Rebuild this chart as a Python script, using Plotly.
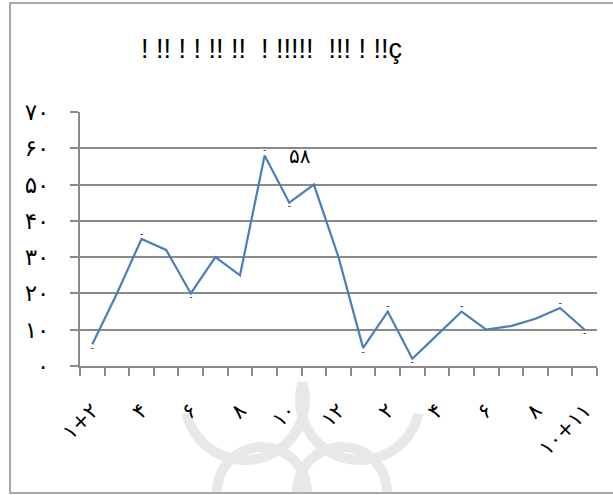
import numpy as np
import plotly.graph_objects as go

# ---- data ----
categories = ["۱+۲", "۳", "۴", "۵", "۶", "۷", "۸", "۹", "۱۰", "۱۱", "۱۲",
              "۱", "۲", "۳", "۴", "۵", "۶", "۷", "۸", "۹", "۱۰+۱۱"]
values = [6, 20, 35, 32, 20, 30, 25, 58, 45, 50, 30, 5, 15, 2, 8.5, 15, 10, 11, 13, 16, 10]
y_tick_vals = [0, 10, 20, 30, 40, 50, 60, 70]
y_tick_text = ["۰", "۱۰", "۲۰", "۳۰", "۴۰", "۵۰", "۶۰", "۷۰"]
title_text = "! !! ! ! !! !!  ! !!!!!  !!! ! !!ç"
peak_label = "۵۸"
# small dash artefacts next to some points (index -> position)
dash_marks = {0: "bottom center", 2: "top center", 4: "bottom center", 7: "top center",
              8: "bottom center", 11: "bottom center", 12: "top center", 13: "bottom center",
              15: "top center", 19: "top center", 20: "bottom center"}

W, H = 613, 495
L, R, T, B = 80, 16, 112, 129
pw, ph = W - L - R, H - T - B

def px(x):
    return (x - L) / pw

def py(y):
    return (H - B - y) / ph

xs = list(range(1, len(categories) + 1))
GRID = "#8a8a8a"

fig = go.Figure()

fig.add_trace(go.Scatter(
    x=xs, y=values, mode="lines",
    line=dict(color="#4a7ebb", width=2.2),
    hoverinfo="skip", showlegend=False,
))

dx = [xs[i] for i in dash_marks]
dy = [values[i] for i in dash_marks]
fig.add_trace(go.Scatter(
    x=dx, y=dy, mode="text", text=["-"] * len(dx),
    textposition=list(dash_marks.values()),
    textfont=dict(size=9, color="black", family="DejaVu Sans"),
    hoverinfo="skip", showlegend=False,
))

fig.add_annotation(
    x=xs[values.index(max(values))], y=max(values), text=peak_label,
    showarrow=False, xanchor="left", yanchor="middle", xshift=22, yshift=0,
    font=dict(size=20, color="black", family="DejaVu Sans"),
)

# outer chart frame
fig.add_shape(type="rect", xref="paper", yref="paper",
              x0=px(10), x1=px(640), y0=py(493), y1=py(3),
              line=dict(color="#8c8c8c", width=1.5), layer="below")

# faint watermark arcs
wm = dict(color="#e8e8e8", width=10)
def arc_path(cx, cy, r, a0, a1, n=60):
    t = np.linspace(np.radians(a0), np.radians(a1), n)
    pts = [(px(cx + r * np.cos(a)), py(cy + r * np.sin(a))) for a in t]
    return "M " + " L ".join(f"{a:.5f},{b:.5f}" for a, b in pts)

fig.add_shape(type="path", xref="paper", yref="paper", layer="below",
              path=arc_path(245, 400, 60, 167, -17), line=wm)
fig.add_shape(type="path", xref="paper", yref="paper", layer="below",
              path=arc_path(360, 400, 60, 197, 13), line=wm)
fig.add_shape(type="path", xref="paper", yref="paper", layer="below",
              path=arc_path(262, 492, 45, 180, 360), line=wm)
fig.add_shape(type="path", xref="paper", yref="paper", layer="below",
              path=arc_path(342, 492, 45, 180, 360), line=wm)

fig.update_layout(
    width=W, height=H,
    margin=dict(l=L, r=R, t=T, b=B, autoexpand=False),
    paper_bgcolor="white", plot_bgcolor="white",
    title=dict(text=title_text, x=271.5 / W, xanchor="center", xref="container",
               y=1 - 49 / H, yanchor="middle", yref="container",
               font=dict(size=27, color="black",
                         family="Liberation Sans Narrow, Arial Narrow, Liberation Sans")),
)

fig.update_xaxes(
    range=[0.5, len(categories) + 0.5],
    tickmode="array", tickvals=xs[::2], ticktext=categories[::2],
    ticks="", tickangle=-45, ticklabelstandoff=22,
    tickfont=dict(size=21, color="black", family="DejaVu Sans"),
    showgrid=False, zeroline=False,
    showline=True, linecolor=GRID, linewidth=2,
    minor=dict(tickmode="linear", tick0=0.5, dtick=1, ticks="outside",
               ticklen=8, tickwidth=1.5, tickcolor=GRID, showgrid=False),
    fixedrange=True,
)
fig.update_yaxes(
    range=[0, 70], tickmode="array", tickvals=y_tick_vals, ticktext=y_tick_text,
    ticks="outside", ticklen=8, tickwidth=2, tickcolor=GRID,
    ticklabelstandoff=16,
    tickfont=dict(size=23, color="black", family="DejaVu Sans"),
    showgrid=True, gridcolor=GRID, gridwidth=2,
    zeroline=False, showline=True, linecolor=GRID, linewidth=2,
    fixedrange=True,
)

fig.write_html("out.html")
